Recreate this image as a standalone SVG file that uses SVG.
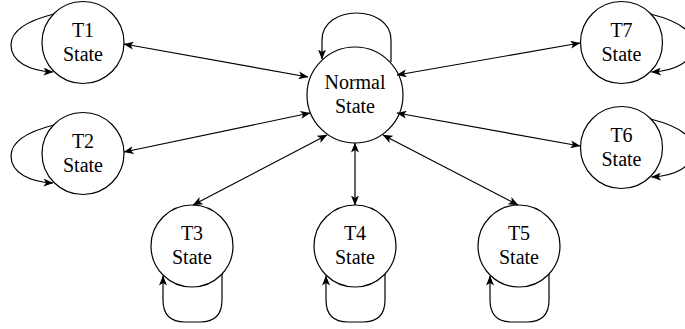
<svg xmlns="http://www.w3.org/2000/svg" width="685" height="329" viewBox="0 0 685 329">
<defs>
<marker id="arr" viewBox="0 0 10 8" refX="9.5" refY="4" markerWidth="10" markerHeight="8" markerUnits="userSpaceOnUse" orient="auto-start-reverse">
<path d="M0,0 L10,4 L0,8 L2.5,4 Z" fill="#000"/>
</marker>
<style>
.n circle{fill:#fff;stroke:#000;stroke-width:1.2}
.n text{font-family:"Liberation Serif","Times New Roman",serif;font-size:20px;fill:#000;text-anchor:middle}
.e path,.e line{fill:none;stroke:#000;stroke-width:1.2}
.bi{marker-start:url(#arr);marker-end:url(#arr)}
.lp{marker-end:url(#arr)}
</style>
</defs>
<rect width="685" height="329" fill="#fff"/>
<g id="nodes">
<g id="normal" class="n"><circle cx="355" cy="95" r="48"/><text x="355" y="89">Normal</text><text x="355" y="113">State</text></g>
<g id="t1" class="n"><circle cx="83" cy="42.5" r="41"/><text x="83" y="36.5">T1</text><text x="83" y="60.5">State</text></g>
<g id="t2" class="n"><circle cx="83" cy="153.5" r="41"/><text x="83" y="147.5">T2</text><text x="83" y="171.5">State</text></g>
<g id="t3" class="n"><circle cx="192" cy="246" r="41"/><text x="192" y="240">T3</text><text x="192" y="264">State</text></g>
<g id="t4" class="n"><circle cx="355" cy="246" r="41"/><text x="355" y="240">T4</text><text x="355" y="264">State</text></g>
<g id="t5" class="n"><circle cx="519" cy="246" r="41"/><text x="519" y="240">T5</text><text x="519" y="264">State</text></g>
<g id="t6" class="n"><circle cx="621.5" cy="147.5" r="41"/><text x="621.5" y="141.5">T6</text><text x="621.5" y="165.5">State</text></g>
<g id="t7" class="n"><circle cx="621.5" cy="42.5" r="41"/><text x="621.5" y="36.5">T7</text><text x="621.5" y="60.5">State</text></g>
</g>
<g id="connectors" class="e">
<line class="bi" x1="124" y1="44" x2="308" y2="77"/>
<line class="bi" x1="124" y1="152" x2="310" y2="113"/>
<line class="bi" x1="193" y1="205" x2="327" y2="135"/>
<line class="bi" x1="355" y1="205" x2="355" y2="143"/>
<line class="bi" x1="518" y1="205" x2="383" y2="135"/>
<line class="bi" x1="580" y1="146" x2="397" y2="113"/>
<line class="bi" x1="580" y1="43" x2="397" y2="75"/>
<path class="lp" d="M391,62 L391,40 C391,4 322,4 322,40 L322,59"/>
<path class="lp" d="M54,14 C30,20 11,30 11,45 C11,62 30,71 53,72"/>
<path class="lp" d="M54,125 C30,131 11,141 11,156 C11,173 30,182 53,183"/>
<path class="lp" d="M650.5,14 C674.5,20 693.5,30 693.5,45 C693.5,62 674.5,71 651.5,72"/>
<path class="lp" d="M650.5,119 C674.5,125 693.5,135 693.5,150 C693.5,167 674.5,176 651.5,177"/>
<path class="lp" d="M222,274 L222,300 Q222,322 200,322 L185,322 Q163,322 163,300 L163,276"/>
<path class="lp" d="M385,274 L385,300 Q385,322 363,322 L348,322 Q326,322 326,300 L326,276"/>
<path class="lp" d="M549,274 L549,300 Q549,322 527,322 L512,322 Q490,322 490,300 L490,276"/>
</g>
</svg>
